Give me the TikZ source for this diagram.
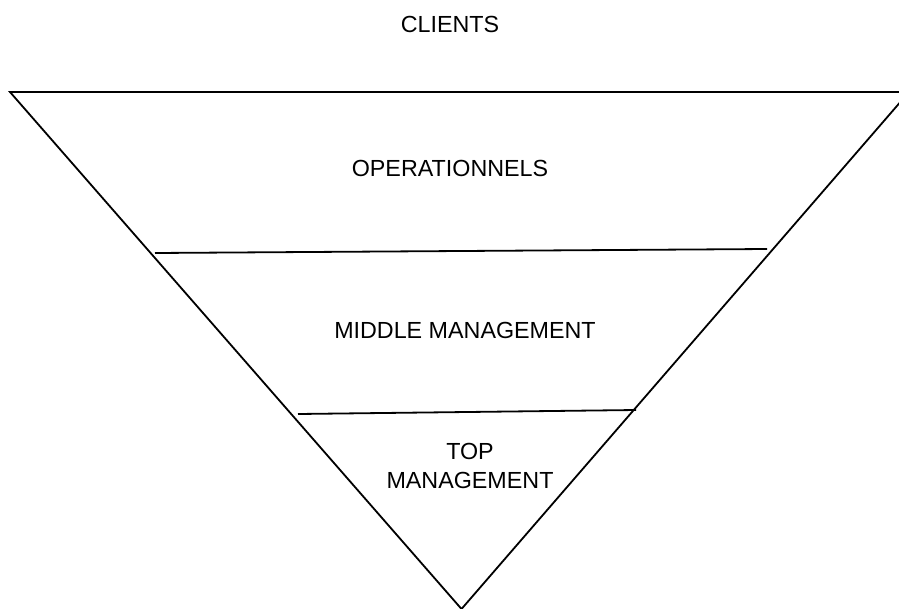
\documentclass[tikz,border=0pt]{standalone}
\usepackage{fontspec}
\setmainfont{Liberation Sans}
\begin{document}
\begin{tikzpicture}[x=1pt,y=-1pt,
  edge/.style={line width=1.8pt,black},
  lbl/.style={font=\fontsize{23.3}{29}\selectfont,align=center,inner sep=0pt}]
\useasboundingbox (0,0) rectangle (899,608);
\clip (0,0) rectangle (899,608);
\coordinate (tl) at (10,92);
\coordinate (tr) at (909,92);
\coordinate (ap) at (461.5,609);
\coordinate (a1) at (155,253);
\coordinate (b1) at (767,249);
\coordinate (a2) at (298,414);
\coordinate (b2) at (636,410);
\draw[edge] (tl) -- (tr) -- (ap) -- cycle;
\draw[edge] (a1) -- (b1);
\draw[edge] (a2) -- (b2);
\node[lbl] (clients) at (450,24) {CLIENTS};
\node[lbl] (ops) at (450,168) {OPERATIONNELS};
\node[lbl] (mid) at (465,330) {MIDDLE MANAGEMENT};
\node[lbl] (top) at (470,466) {TOP\\MANAGEMENT};
\end{tikzpicture}
\end{document}
